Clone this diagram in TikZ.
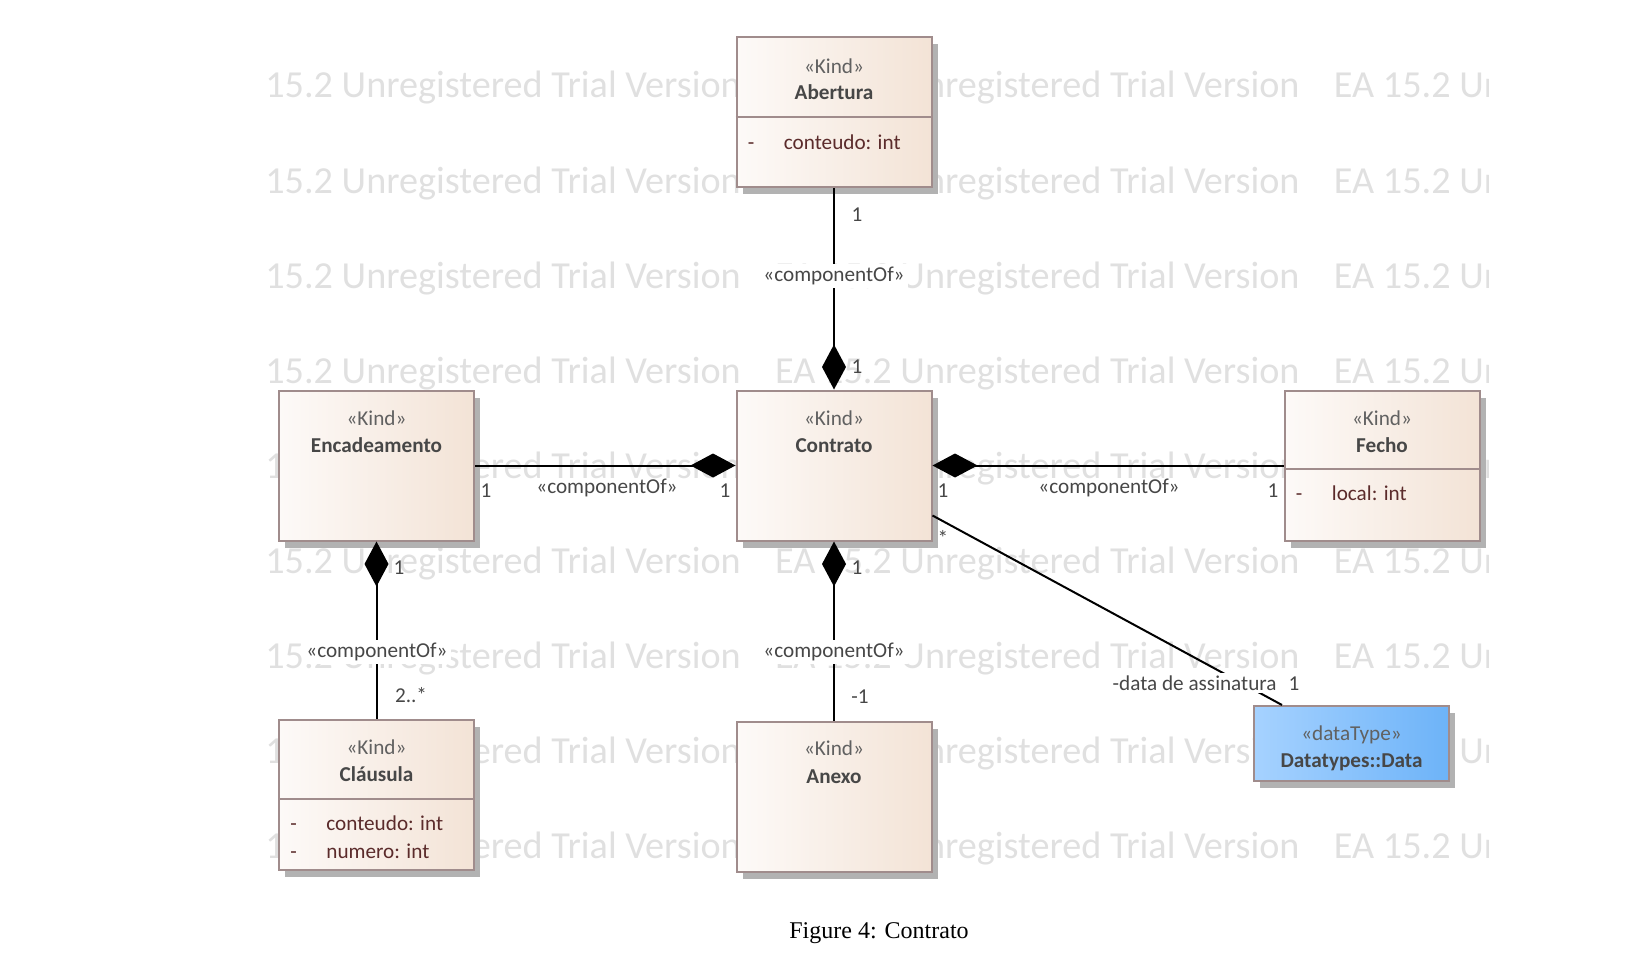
\documentclass[tikz,border=0pt]{standalone}
\usepackage{fontspec}
\setmainfont{Carlito}
\newfontfamily\captionfont{Liberation Serif}
\usepackage{tikz}
\usetikzlibrary{arrows.meta, calc, shadows, positioning}

\definecolor{boxborder}{HTML}{A08C8C}
\definecolor{boxleft}{HTML}{FDFAF8}
\definecolor{boxright}{HTML}{F3E3D6}
\definecolor{dtleft}{HTML}{A6D2FF}
\definecolor{dtright}{HTML}{6DB3F8}
\definecolor{txtgray}{HTML}{474747}
\definecolor{attrred}{HTML}{5B2B2B}
\definecolor{wmgray}{HTML}{E0E0E0}

\begin{document}
\begin{tikzpicture}[x=0.5pt, y=-0.5pt,
  every node/.style={font=\fontsize{10.6}{12}\selectfont, text=txtgray},
  umlbox/.style={draw=boxborder, line width=1pt, inner sep=0pt,
    left color=boxleft, right color=boxright,
    minimum width=97.5pt, minimum height=75pt,
    drop shadow={shadow xshift=3pt, shadow yshift=-3.5pt, fill=black!30, opacity=1}},
  dtbox/.style={umlbox, left color=dtleft, right color=dtright, minimum height=37.5pt},
  stereo/.style={text=black!62},
  cname/.style={font=\fontsize{10.6}{12}\selectfont\bfseries},
  attr/.style={text=attrred, anchor=west, inner sep=0pt, text height=1.5ex, text depth=0.4ex},
  sep/.style={draw=boxborder, line width=1pt},
  conn/.style={line width=1pt},
  comp/.style={conn, {Diamond[length=22.5pt, width=12pt]}-},
  stlabel/.style={fill=white, inner sep=1.5pt},
  mult/.style={inner sep=1pt},
  watermark/.style={text=wmgray, font=\fontsize{19.1}{22}\selectfont, anchor=west, inner sep=0pt},
]
\useasboundingbox (0,0) rectangle (1652,968);

% trial watermark
\begin{scope}
  \clip (263,40) rectangle (1488,880);
  \foreach \r in {0,...,8} {
    \foreach \k in {0,1,2} {
      \node[watermark] (wm-\r-\k) at ({216+\k*558.75},{88+\r*95.1}) {EA 15.2 Unregistered Trial Version};
    }
  }
\end{scope}

% classes
\node[umlbox] (abertura) at (834,112) {};
\node[stereo] (abertura-st) at ($(abertura.north)+(0,30)$) {«Kind»};
\node[cname] (abertura-nm) at ($(abertura.north)+(0,56)$) {Abertura};
\draw[sep] ($(abertura.north west)+(0,81)$) -- ($(abertura.north east)+(0,81)$);
\node[attr] (abertura-v1) at ($(abertura.north west)+(12,108)$) {-};
\node[attr] (abertura-a1) at ($(abertura.north west)+(48,108)$) {conteudo: int};

\node[umlbox] (encadeamento) at (376.5,465.5) {};
\node[stereo] (encadeamento-st) at ($(encadeamento.north)+(0,29)$) {«Kind»};
\node[cname] (encadeamento-nm) at ($(encadeamento.north)+(0,56)$) {Encadeamento};

\node[umlbox] (contrato) at (834,465.5) {};
\node[stereo] (contrato-st) at ($(contrato.north)+(0,29)$) {«Kind»};
\node[cname] (contrato-nm) at ($(contrato.north)+(0,56)$) {Contrato};

\node[umlbox] (fecho) at (1382,465.5) {};
\node[stereo] (fecho-st) at ($(fecho.north)+(0,29)$) {«Kind»};
\node[cname] (fecho-nm) at ($(fecho.north)+(0,56)$) {Fecho};
\draw[sep] ($(fecho.north west)+(0,79)$) -- ($(fecho.north east)+(0,79)$);
\node[attr] (fecho-v1) at ($(fecho.north west)+(12,106)$) {-};
\node[attr] (fecho-a1) at ($(fecho.north west)+(48,106)$) {local: int};

\node[umlbox] (clausula) at (376.5,794.5) {};
\node[stereo] (clausula-st) at ($(clausula.north)+(0,29)$) {«Kind»};
\node[cname] (clausula-nm) at ($(clausula.north)+(0,56)$) {Cláusula};
\draw[sep] ($(clausula.north west)+(0,80)$) -- ($(clausula.north east)+(0,80)$);
\node[attr] (clausula-v1) at ($(clausula.north west)+(12,107)$) {-};
\node[attr] (clausula-a1) at ($(clausula.north west)+(48,107)$) {conteudo: int};
\node[attr] (clausula-v2) at ($(clausula.north west)+(12,135)$) {-};
\node[attr] (clausula-a2) at ($(clausula.north west)+(48,135)$) {numero: int};

\node[umlbox] (anexo) at (834,797) {};
\node[stereo] (anexo-st) at ($(anexo.north)+(0,27)$) {«Kind»};
\node[cname] (anexo-nm) at ($(anexo.north)+(0,56)$) {Anexo};

\node[dtbox] (data) at (1351.5,743.5) {};
\node[stereo] (data-st) at ($(data.north)+(0,30)$) {«dataType»};
\node[cname] (data-nm) at ($(data.north)+(0,57)$) {Datatypes::Data};

% associations
\draw[comp] (contrato) -- (abertura);
\draw[comp] (contrato) -- (encadeamento);
\draw[comp] (contrato) -- (fecho);
\draw[comp] (contrato) -- (anexo);
\draw[comp] (encadeamento) -- (clausula);
\draw[conn] ($(contrato.south east)+(0,-26)$) -- ($(data.north west)+(29,0)$);

% labels
\node[mult] (m-ab1) at (857,215) {1};
\node[stlabel] (s-ab) at (834,276) {«componentOf»};
\node[mult] (m-ab2) at (857,367) {1};

\node[mult] (m-en1) at (486,491) {1};
\node[mult] (s-en) at (607,488) {«componentOf»};
\node[mult] (m-en2) at (725,491) {1};

\node[mult] (m-fe1) at (943,491) {1};
\node[mult] (s-fe) at (1109,488) {«componentOf»};
\node[mult] (m-fe2) at (1273,491) {1};

\node[mult] (m-cl1) at (399,568) {1};
\node[stlabel] (s-cl) at (377,652) {«componentOf»};
\node[mult] (m-cl2) at (411,695) {2..*};

\node[mult] (m-an1) at (857,568) {1};
\node[stlabel] (s-an) at (834,652) {«componentOf»};
\node[mult] (m-an2) at (860,697) {-1};

\node[mult] (m-da1) at (943,538) {*};
\node[stlabel] (m-da2) at (1206,683) {-data de assinatura\hspace{6pt}1};

% caption
\node[font=\captionfont\fontsize{12}{14}\selectfont, text=black] (caption) at (879,933) {Figure 4: Contrato};
\end{tikzpicture}
\end{document}
